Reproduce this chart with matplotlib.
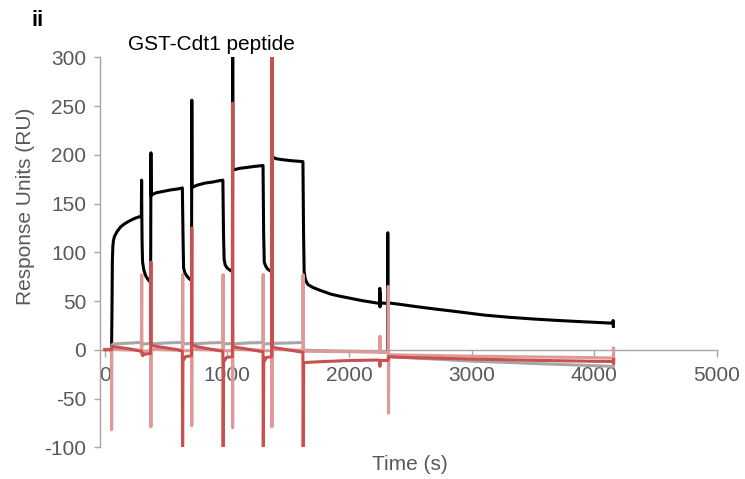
import matplotlib
matplotlib.use("Agg")
import matplotlib.pyplot as plt

plt.rcParams['font.family'] = ['Liberation Sans', 'DejaVu Sans']
plt.rcParams['axes.unicode_minus'] = False

# ---- data ----
black_t = [57, 60, 63, 67, 72, 80, 100, 130, 160, 200, 250, 298, 300, 302, 304, 306, 310, 320, 335, 355, 376,
           378, 380, 385, 420, 480, 540, 600, 635,
           640, 645, 655, 670, 690, 710,
           712, 714, 720, 760, 820, 880, 940, 966,
           971, 976, 985, 1000, 1020, 1044,
           1046, 1048, 1052, 1100, 1160, 1220, 1294,
           1299, 1304, 1315, 1330, 1345, 1365,
           1367, 1369, 1375, 1400, 1450, 1520, 1620,
           1625, 1630, 1640, 1660, 1700, 1760, 1850, 1920, 2000, 2100, 2222, 2246,
           2248, 2250, 2252, 2254, 2260, 2312, 2313, 2315, 2317, 2325,
           2400, 2550, 2700, 2900, 3100, 3300, 3500, 3700, 3900, 4100, 4152, 4154, 4156]
black_v = [5, 40, 90, 106, 112, 116, 121, 126, 129, 132, 135, 137, 137.5, 174, 137, 110, 90, 82, 76, 72, 69,
           202, 158, 159, 161, 162.5, 164, 165, 166,
           120, 84, 79, 76, 73, 71,
           256, 166, 167, 169, 171, 172, 173.5, 174,
           120, 93, 87, 84, 82, 80,
           330, 184, 184.5, 186, 187, 188, 189,
           120, 90, 86, 83, 81.5, 80,
           330, 199, 197.5, 196, 195, 194, 193,
           120, 80, 72, 67, 64, 61, 57, 55, 53, 50.5, 48, 47.5,
           63, 44, 58, 47, 48, 47.5, 120, -2, 50, 48,
           46.8, 44.2, 41.8, 38.8, 35.6, 33.4, 31.6, 30.1, 28.8, 27.6, 27.3, 30, 24]

red_t = [0, 56, 58, 62, 100, 200, 300, 303, 306, 312, 318, 330, 355, 376,
         378, 380, 384, 420, 500, 600, 635,
         637, 640, 648, 660, 690, 710,
         712, 714, 720, 760, 850, 966,
         968, 972, 980, 995, 1020, 1044,
         1046, 1048, 1055, 1100, 1200, 1294,
         1296, 1300, 1308, 1320, 1345, 1365,
         1367, 1369, 1375, 1420, 1520, 1620,
         1622, 1626, 1640, 1800, 2000, 2240, 2246, 2249, 2252, 2256, 2314, 2318, 2330,
         2500, 3000, 3500, 4000, 4155, 4157, 4158]
red_v = [0, 0, 2, 3.5, 2.8, 1, -1.5, -2.5, -5, -6, -4, -4.5, -4, -4,
         90, 6, 4.5, 3.5, 2, 0, -1.5,
         -120, -8, -10, -7, -6.5, -6,
         125, 5, 4.5, 3, 1, -1.5,
         -120, -9, -11, -8, -7.5, -7,
         253, 4, 3, 2, 0, -2,
         -120, -8, -11, -8, -7.5, -7,
         330, 3, 2.5, 1.5, -0.5, -2.5,
         -120, -14, -13, -12, -11, -10.5, -13, -17, -12, -11, -11, -7, -7.2,
         -8, -9.5, -10.8, -11.8, -12, -14, -10]

pink_t = [0, 55, 57, 59, 150, 300, 303, 305, 340, 376,
          378, 380, 500, 635, 637, 639, 710,
          712, 714, 850, 966, 968, 970, 1044,
          1046, 1048, 1170, 1294, 1296, 1298, 1365,
          1367, 1369, 1500, 1620, 1622, 1624, 2000, 2246, 2249, 2252, 2256, 2315,
          2317, 2319, 2322, 2500, 3000, 3500, 4000, 4155, 4157, 4159]
pink_v = [0.5, 0.5, -82, 0.5, 0, -0.5, 77, -1, -1.5, -1,
          -79, 0.5, 0, -0.5, 75, -1, -1,
          -78, 0.5, 0, -0.5, 76, -1, -1,
          -80, 0.5, 0, -0.5, 77, -1, -1,
          -79, 0.5, 0, -0.5, 76, -1.5, -2, -2.5, 14, -3, -2.5, -3,
          65, -65, -5, -5.5, -6.5, -7.3, -8, -8.5, 2, -15]

gray_t = [57, 60, 70, 150, 300, 303, 305, 320, 376,
          378, 380, 500, 635, 637, 639, 710,
          712, 714, 850, 966, 968, 970, 1044,
          1046, 1048, 1170, 1294, 1296, 1298, 1365,
          1367, 1369, 1500, 1620, 1622, 1625, 1640,
          2000, 2240, 2316, 2320, 2500, 3000, 3500, 4000, 4155]
gray_v = [2, 5, 6, 6.5, 7.5, 7.5, 5, 6, 6.5,
          6, 6, 7, 7.5, 77, 6, 6.5,
          6, 6, 7, 7.5, 77, 6, 6.5,
          6, 6, 7, 7.5, 77, 6, 6.5,
          6, 6.5, 7, 7.5, 77, 0, -0.5,
          -1.5, -2, -2.5, -7, -8.2, -11.6, -14, -16.3, -17]

x_ticks = [0, 1000, 2000, 3000, 4000, 5000]
y_ticks = [-100, -50, 0, 50, 100, 150, 200, 250, 300]

# ---- figure ----
fig = plt.figure(figsize=(7.45, 4.79), dpi=100)
ax = fig.add_axes([0.1342, 0.0662, 0.8278, 0.8142])

lw = 2.2
ax.plot(black_t, black_v, color='#000000', lw=lw, solid_joinstyle='round', zorder=3)
ax.plot(gray_t, gray_v, color='#A6A6A6', lw=lw, solid_joinstyle='round', zorder=4)
ax.plot(pink_t, pink_v, color='#DE9A98', lw=lw, solid_joinstyle='round', zorder=5)
ax.plot(red_t, red_v, color='#C8504E', lw=lw, solid_joinstyle='round', zorder=6)

ax.set_xlim(-38, 5000)
ax.set_ylim(-100, 300)
ax.set_xticks(x_ticks)
ax.set_yticks(y_ticks)

spine_col = '#A6A6A6'
for s in ['top', 'right']:
    ax.spines[s].set_visible(False)
ax.spines['bottom'].set_position(('data', 0))
ax.spines['bottom'].set_color(spine_col)
ax.spines['left'].set_color(spine_col)
ax.spines['bottom'].set_linewidth(1.0)
ax.spines['left'].set_linewidth(1.0)
ax.spines['bottom'].set_zorder(2)

ax.tick_params(axis='x', direction='out', length=5, width=1.0, color=spine_col,
               labelsize=15, labelcolor='#595959', pad=7)
ax.tick_params(axis='y', direction='out', length=4, width=1.0, color=spine_col,
               labelsize=15, labelcolor='#595959', pad=6)

fig.text(25.5 / 745, 1 - 206 / 479, 'Response Units (RU)', rotation=90,
         ha='center', va='center', fontsize=15, color='#595959')
fig.text(409.5 / 745, 1 - 465 / 479, 'Time (s)', ha='center', va='center',
         fontsize=15, color='#595959')
fig.text(211 / 745, 1 - 45 / 479, 'GST-Cdt1 peptide', ha='center', va='center',
         fontsize=15, color='#000000')
fig.text(38 / 745, 1 - 20 / 479, 'ii', ha='center', va='center',
         fontsize=16, fontweight='bold', color='#000000')

fig.savefig('out.png', dpi=100)
